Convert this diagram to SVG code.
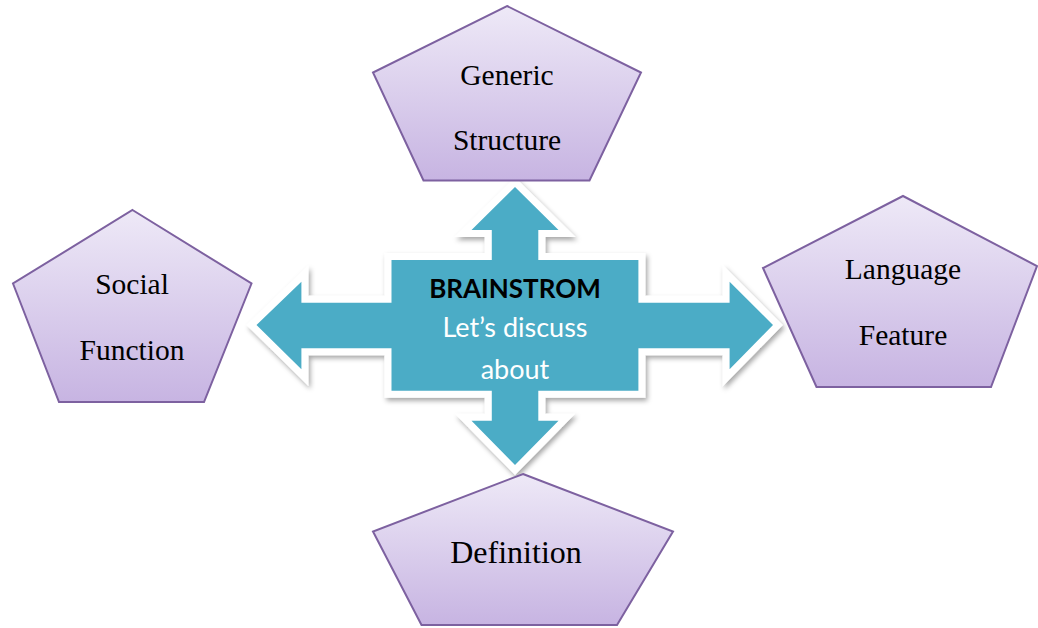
<svg xmlns="http://www.w3.org/2000/svg" width="1038" height="628" viewBox="0 0 1038 628">
  <defs>
    <linearGradient id="penta" x1="0" y1="0" x2="0" y2="1">
      <stop offset="0" stop-color="#eee9f7"/>
      <stop offset="1" stop-color="#c7b4e2"/>
    </linearGradient>
    <filter id="shadow" x="-10%" y="-10%" width="120%" height="125%">
      <feDropShadow dx="2" dy="3" stdDeviation="2.5" flood-color="#000" flood-opacity="0.35"/>
    </filter>
  </defs>
  <style>
    .penta { fill: url(#penta); stroke: #7d61a0; stroke-width: 2; stroke-linejoin: miter; }
    .lbl { font-family: "Liberation Serif", "Times New Roman", serif; font-size: 29.5px; fill: #000; text-anchor: middle; }
    .cross { fill: #4bacc6; stroke: #ffffff; stroke-width: 14; stroke-linejoin: miter; stroke-miterlimit: 10; paint-order: stroke; }
    .ctr { font-family: "Lato", "Liberation Sans", sans-serif; font-size: 26px; text-anchor: middle; }
  </style>
  <rect width="1038" height="628" fill="#ffffff"/>

  <g id="connectors">
    <path class="cross" filter="url(#shadow)" d="M515,187 L558.5,230 L538.3,230 L538.3,260 L638.4,260 L638.4,302.7 L729.6,302.7 L729.6,281.7 L773,325 L729.6,369.3 L729.6,348.3 L638.4,348.3 L638.4,390.7 L538.3,390.7 L538.3,420.7 L558.5,420.7 L515,465 L471.5,420.7 L491.8,420.7 L491.8,390.7 L391.5,390.7 L391.5,348.3 L301.4,348.3 L301.4,369.3 L256.5,325 L301.4,281.7 L301.4,302.7 L391.5,302.7 L391.5,260 L491.8,260 L491.8,230 L471.5,230 Z"/>
  </g>

  <g id="center">
    <text class="ctr" x="515" y="298" font-weight="bold" fill="#000000">BRAINSTROM</text>
    <text class="ctr" x="515" y="337" fill="#ffffff" style="font-size:27px">Let’s discuss</text>
    <text class="ctr" x="515" y="379" fill="#ffffff" style="font-size:27px">about</text>
  </g>

  <g id="generic-structure">
    <polygon class="penta" points="507,6 641,72.5 589.5,180.5 423.5,180.5 373,72.5"/>
    <text class="lbl" x="507" y="85">Generic</text>
    <text class="lbl" x="507" y="150">Structure</text>
  </g>

  <g id="social-function">
    <polygon class="penta" points="132.5,210 251.5,283.5 204,402 59,402 13,283.5"/>
    <text class="lbl" x="132" y="294">Social</text>
    <text class="lbl" x="132" y="360">Function</text>
  </g>

  <g id="language-feature">
    <polygon class="penta" points="903,196 1037,266 991,387 816.5,387 763,268"/>
    <text class="lbl" x="903" y="279">Language</text>
    <text class="lbl" x="903" y="345">Feature</text>
  </g>

  <g id="definition">
    <polygon class="penta" points="523,474 673,531.5 617,625 421.5,625 373,531.5"/>
    <text class="lbl" x="516" y="563" style="font-size:32px">Definition</text>
  </g>
</svg>
